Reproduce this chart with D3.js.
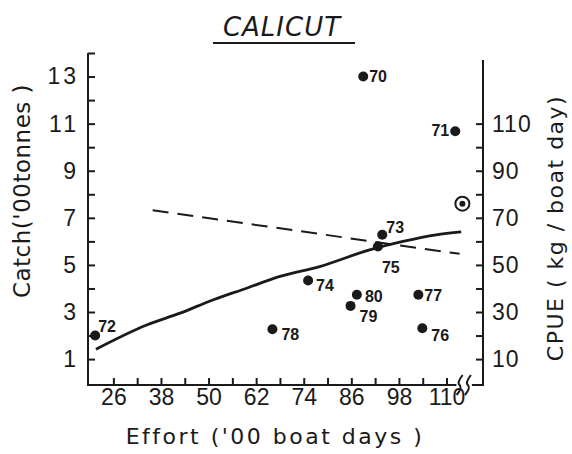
<!DOCTYPE html>
<html>
<head>
<meta charset="utf-8">
<script src="https://cdn.jsdelivr.net/npm/d3@7"></script>
<style>
  body { margin: 0; background: #fff; }
  svg { display: block; font-family: "DejaVu Sans", sans-serif; }
  .axis text { font-size: 23px; fill: #1a1a1a; }
  .axis line { stroke: #1a1a1a; stroke-width: 2px; }
</style>
</head>
<body>
<svg id="chart" width="572" height="454"></svg>
<script>
// catch per year (left scale) vs effort
var years = ["70", "71", "72", "73", "74", "75", "76", "77", "78", "79", "80"];
var effort = [89.0, 112.2, 21.4, 93.8, 75.1, 92.7, 103.9, 102.9, 66.1, 85.8, 87.4];
var catchValues = [13.0, 10.68, 2.0, 6.28, 4.34, 5.78, 2.31, 3.73, 2.27, 3.26, 3.73];

// fitted catch curve (solid)
var curveEffort = [21.6, 34.4, 42.8, 51.2, 59.6, 68.0, 78.0, 90.6, 99.0, 107.4, 113.7];
var curveCatch = [1.42, 2.45, 2.95, 3.52, 4.01, 4.51, 4.93, 5.64, 6.0, 6.28, 6.4];

// CPUE line (dashed, right scale)
var cpueLineEffort = [35.9, 113.3];
var cpueLineValues = [73.2, 54.7];

// circled mean CPUE point
var meanEffort = [114.0];
var meanCpue = [76];

// ticks
var xTickValues = [26, 32, 38, 44, 50, 56, 62, 68, 74, 80, 86, 92, 98, 104, 110];
var xTickLabels = [26, 38, 50, 62, 74, 86, 98, 110];
var leftTickValues = [1, 2, 3, 4, 5, 6, 7, 8, 9, 10, 11, 12, 13, 14];
var leftTickLabels = [1, 3, 5, 7, 9, 11, 13];
var rightTickValues = [10, 20, 30, 40, 50, 60, 70, 80, 90, 100, 110];
var rightTickLabels = [10, 30, 50, 70, 90, 110];

// where each year label sits relative to its dot
var labelOffsets = {
  "70": [6, 5, "start"], "71": [-6, 5, "end"], "72": [3, -4, "start"],
  "73": [4, -2, "start"], "74": [8, 11, "start"], "75": [4, 26, "start"],
  "76": [9, 13, "start"], "77": [6, 6, "start"], "78": [9, 11, "start"],
  "79": [9, 16, "start"], "80": [8, 7, "start"]
};

var svg = d3.select("#chart");
var ink = "#1a1a1a";

var x = d3.scaleLinear().domain([19.6, 119.2]).range([88, 483]);
var y = d3.scaleLinear().domain([-0.1, 14]).range([385, 53]);
var yR = d3.scaleLinear().domain([-1, 140]).range([385, 53]);

var points = years.map(function(d, i) {
  return { year: d, effort: effort[i], value: catchValues[i] };
});

// title
svg.append("text")
  .attr("x", 282).attr("y", 36)
  .attr("text-anchor", "middle")
  .style("font-size", "26px").style("font-style", "italic")
  .style("letter-spacing", "1px").style("fill", ink)
  .text("CALICUT");
svg.append("line")
  .attr("x1", 213).attr("x2", 355).attr("y1", 43).attr("y2", 43)
  .attr("stroke", ink).attr("stroke-width", 2);

// axes
var xAxis = svg.append("g")
  .attr("class", "axis")
  .attr("transform", "translate(0," + y(-0.1) + ")")
  .call(d3.axisBottom(x)
    .tickValues(xTickValues)
    .tickSizeInner(-7).tickSizeOuter(0).tickPadding(4)
    .tickFormat(function(d) { return xTickLabels.indexOf(d) >= 0 ? d : ""; }));
xAxis.select(".domain").remove();

var leftAxis = svg.append("g")
  .attr("class", "axis")
  .attr("transform", "translate(" + x(19.6) + ",0)")
  .call(d3.axisLeft(y)
    .tickValues(leftTickValues)
    .tickSizeInner(-7).tickSizeOuter(0).tickPadding(9)
    .tickFormat(function(d) { return leftTickLabels.indexOf(d) >= 0 ? d : ""; }));
leftAxis.select(".domain").remove();
leftAxis.selectAll("text").style("letter-spacing", "3px");

var rightAxis = svg.append("g")
  .attr("class", "axis")
  .attr("transform", "translate(" + x(119.2) + ",0)")
  .call(d3.axisRight(yR)
    .tickValues(rightTickValues)
    .tickSizeInner(-7).tickSizeOuter(0).tickPadding(9)
    .tickFormat(function(d) { return rightTickLabels.indexOf(d) >= 0 ? d : ""; }));
rightAxis.select(".domain").remove();
rightAxis.selectAll("text").style("letter-spacing", "1px");

// axis lines with the break near the right end
var frame = svg.append("g").attr("fill", "none").attr("stroke", ink).attr("stroke-width", 2);
frame.append("line").attr("x1", x(19.6)).attr("x2", x(19.6)).attr("y1", y(14)).attr("y2", y(-0.1));
frame.append("line").attr("x1", x(19.6) - 1).attr("x2", x(112.5)).attr("y1", y(-0.1)).attr("y2", y(-0.1));
frame.append("line").attr("x1", x(116.4)).attr("x2", x(119.2) + 1).attr("y1", y(-0.1)).attr("y2", y(-0.1));
frame.append("line").attr("x1", x(119.2)).attr("x2", x(119.2)).attr("y1", yR(137)).attr("y2", y(-0.1));
[113.3, 115.4].forEach(function(e) {
  var bx = x(e), by = y(-0.1);
  frame.append("path")
    .attr("d", "M" + (bx + 3) + "," + (by - 10) + " Q" + (bx - 3) + "," + (by - 2) + " " + bx + "," + by +
      " Q" + (bx + 3) + "," + (by + 3) + " " + (bx - 3) + "," + (by + 10));
});

// axis titles
svg.append("text")
  .attr("transform", "translate(30,191) rotate(-90)")
  .attr("text-anchor", "middle")
  .style("font-size", "23px").style("letter-spacing", "0.5px").style("fill", ink)
  .text("Catch('00tonnes )");
svg.append("text")
  .attr("transform", "translate(563,228) rotate(-90)")
  .attr("text-anchor", "middle")
  .style("font-size", "22px").style("letter-spacing", "1.5px").style("fill", ink)
  .text("CPUE ( kg / boat  day)");
svg.append("text")
  .attr("x", 275).attr("y", 444)
  .attr("text-anchor", "middle")
  .style("font-size", "22px").style("letter-spacing", "2.5px").style("fill", ink)
  .text("Effort ('00 boat days )");

// fitted catch curve
var curvePts = curveEffort.map(function(d, i) { return [x(d), y(curveCatch[i])]; });
svg.append("path")
  .attr("d", d3.line().curve(d3.curveMonotoneX)(curvePts))
  .attr("fill", "none").attr("stroke", ink).attr("stroke-width", 2.8);

// CPUE line
var cpuePts = cpueLineEffort.map(function(d, i) { return [x(d), yR(cpueLineValues[i])]; });
svg.append("path")
  .attr("d", d3.line()(cpuePts))
  .attr("fill", "none").attr("stroke", ink).attr("stroke-width", 2)
  .attr("stroke-dasharray", "16,9");

// yearly points
svg.selectAll(".dot")
  .data(points)
  .enter()
  .append("circle")
  .attr("class", "dot")
  .attr("cx", function(d) { return x(d.effort); })
  .attr("cy", function(d) { return y(d.value); })
  .attr("r", 5)
  .attr("fill", ink);

svg.selectAll(".yearLabel")
  .data(points)
  .enter()
  .append("text")
  .attr("class", "yearLabel")
  .attr("x", function(d) { return x(d.effort) + labelOffsets[d.year][0]; })
  .attr("y", function(d) { return y(d.value) + labelOffsets[d.year][1]; })
  .attr("text-anchor", function(d) { return labelOffsets[d.year][2]; })
  .style("font-family", "'Liberation Sans', Arial, sans-serif")
  .style("font-weight", "bold").style("font-size", "16px").style("fill", ink)
  .text(function(d) { return d.year; });

// circled mean point
meanEffort.forEach(function(e, i) {
  svg.append("circle")
    .attr("cx", x(e)).attr("cy", yR(meanCpue[i])).attr("r", 7)
    .attr("fill", "none").attr("stroke", ink).attr("stroke-width", 2);
  svg.append("circle")
    .attr("cx", x(e)).attr("cy", yR(meanCpue[i])).attr("r", 3)
    .attr("fill", ink);
});
</script>
</body>
</html>
